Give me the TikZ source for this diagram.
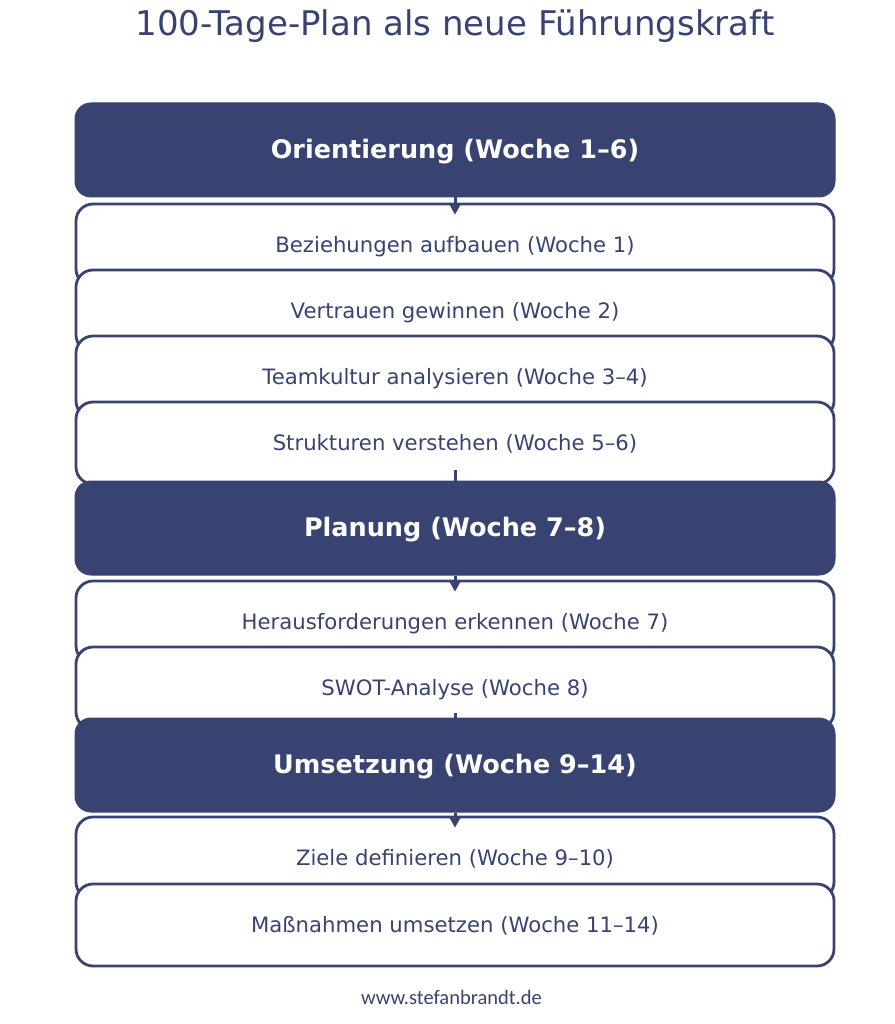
\documentclass[tikz,border=0pt]{standalone}
\usepackage{fontspec}
\setmainfont{DejaVu Sans}
\newfontfamily\footfont{Carlito}
\usetikzlibrary{arrows.meta}
\definecolor{navy}{RGB}{56,67,114}
\tikzset{
  phase/.style={fill=navy, draw=navy, line width=1pt, rounded corners=16pt,
    minimum width=760pt, minimum height=94pt, inner sep=0pt,
    text height=17pt, text depth=0pt,
    text=white, font=\bfseries\fontsize{25.5}{30}\selectfont},
  task/.style={fill=white, draw=navy, line width=2.8pt, rounded corners=17pt,
    minimum width=758pt, minimum height=82pt, inner sep=0pt,
    text height=14.6pt, text depth=0pt,
    text=navy, font=\fontsize{21.2}{25}\selectfont},
  arr/.style={draw=navy, line width=3pt, -{Stealth[length=11pt,width=12pt,inset=2.5pt]}},
  link/.style={draw=navy, line width=3pt}
}
\begin{document}
\begin{tikzpicture}[x=1pt,y=-1pt]
\useasboundingbox (0,0) rectangle (894,1024);
\node[text=navy, font=\fontsize{34}{40}\selectfont, anchor=base, inner sep=0pt] (title) at (455,36) {100-Tage-Plan als neue Führungskraft};
\node[phase] (h1) at (455,150) {Orientierung (Woche 1–6)};
\node[task] (s1) at (455,245) {Beziehungen aufbauen (Woche 1)};
\draw[arr] (h1.south) -- ([yshift=-12pt]s1.north);
\node[task] (s2) at (455,311) {Vertrauen gewinnen (Woche 2)};
\node[task] (s3) at (455,377) {Teamkultur analysieren (Woche 3–4)};
\node[task] (s4) at (455,443) {Strukturen verstehen (Woche 5–6)};
\coordinate (c2) at (455,495);
\draw[link] ([yshift=15pt]s4.south) -- (c2);
\node[phase] (h2) at (455,528) {Planung (Woche 7–8)};
\node[task] (s5) at (455,622) {Herausforderungen erkennen (Woche 7)};
\draw[arr] (h2.south) -- ([yshift=-12pt]s5.north);
\node[task] (s6) at (455,688) {SWOT-Analyse (Woche 8)};
\coordinate (c3) at (455,730);
\draw[link] ([yshift=17pt]s6.south) -- (c3);
\node[phase] (h3) at (455,765) {Umsetzung (Woche 9–14)};
\node[task] (s7) at (455,858) {Ziele definieren (Woche 9–10)};
\draw[arr] (h3.south) -- ([yshift=-12pt]s7.north);
\node[task] (s8) at (455,925) {Maßnahmen umsetzen (Woche 11–14)};
\node[text=navy, font=\footfont\fontsize{20.5}{24}\selectfont] (foot) at (451.5,997) {www.stefanbrandt.de};
\end{tikzpicture}
\end{document}
